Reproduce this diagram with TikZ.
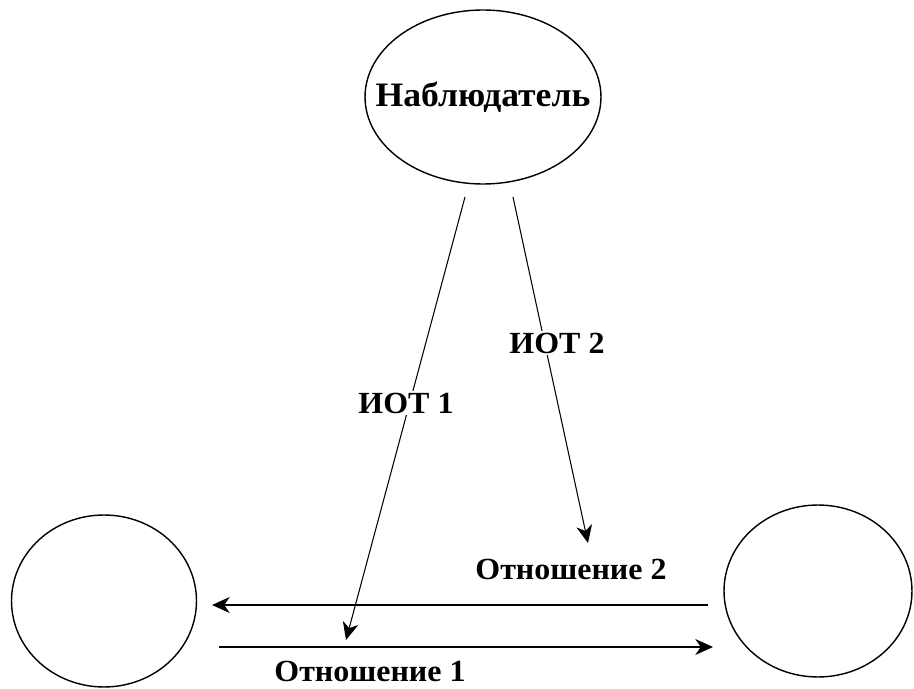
\documentclass[tikz,border=0pt]{standalone}
\usepackage{fontspec}
\setmainfont{Liberation Serif}[FakeStretch=1.04]
\usetikzlibrary{%
  arrows.meta,%
  shapes.geometric%
}
\tikzset{>={Stealth[length=10pt,width=9pt,inset=3pt]}}

\begin{document}
\begin{tikzpicture}[x=0.02cm,y=-0.02cm,
    oval/.style={draw,ellipse,line width=0.8pt,inner sep=0pt},
    lbl/.style={font=\fontsize{17.5}{20}\selectfont\bfseries,inner sep=1pt}]
    \useasboundingbox (0,0) rectangle (914,689);
    % the three ovals
    \node[oval,minimum width=4.72cm,minimum height=3.48cm] (obs) at (483,97) {};
    \node[lbl,font=\fontsize{19.5}{22}\selectfont\bfseries] (obstext) at (obs.center) {Наблюдатель};
    \node[oval,minimum width=3.7cm,minimum height=3.44cm] (left) at (104,601) {};
    \node[oval,minimum width=3.76cm,minimum height=3.44cm] (right) at (818,591) {};
    % ends of the connectors
    \coordinate (iot1s) at (465,197);
    \coordinate (iot1e) at (346,640);
    \coordinate (iot2s) at (513,197);
    \coordinate (iot2e) at (588,543);
    \coordinate (rel2s) at (708,605);
    \coordinate (rel2e) at (212,605);
    \coordinate (rel1s) at (219,647);
    \coordinate (rel1e) at (713,647);
    \draw[line width=0.6pt,->] (iot1s) -- (iot1e);
    \draw[line width=0.6pt,->] (iot2s) -- (iot2e);
    \draw[line width=1.1pt,->] (rel2s) -- (rel2e);
    \draw[line width=1.1pt,->] (rel1s) -- (rel1e);
    % labels
    \node[lbl,fill=white] (iot1) at (406,403) {ИОТ 1};
    \node[lbl,fill=white] (iot2) at (557,343) {ИОТ 2};
    \node[lbl] (rel2) at (571,569) {Отношение 2};
    \node[lbl] (rel1) at (370,671) {Отношение 1};
\end{tikzpicture}
\end{document}
